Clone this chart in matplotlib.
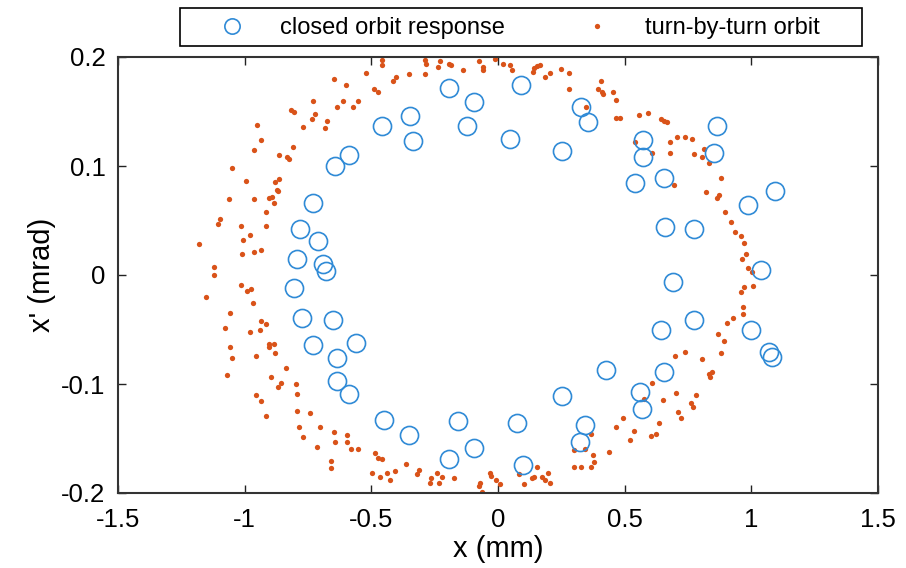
import numpy as np
import matplotlib.pyplot as plt
from matplotlib.lines import Line2D
from matplotlib.patches import Rectangle

plt.rcParams['font.family'] = ['Liberation Sans', 'DejaVu Sans']
plt.rcParams['axes.unicode_minus'] = False

# closed orbit response (x in mm, x' in mrad)
co_x = [0.091, -0.193, -0.095, -0.347, -0.458, -0.122, -0.336, 0.047, 0.328, 0.355,
        0.253, 0.572, 0.572, 0.541, 0.655, 0.865, 0.853, 1.094, 0.987, -0.588,
        -0.644, -0.730, -0.782, -0.711, -0.794, -0.691, -0.679, -0.805, -0.774, -0.651,
        -0.730, -0.561, -0.636, -0.636, -0.588, -0.450, -0.351, -0.158, -0.095, -0.193,
        0.075, 0.099, 0.253, 0.343, 0.324, 0.426, 0.561, 0.569, 0.644, 0.655,
        0.774, 0.691, 0.659, 0.774, 1.038, 0.999, 1.070, 1.082]
co_y = [0.174, 0.172, 0.159, 0.146, 0.137, 0.137, 0.123, 0.125, 0.154, 0.140,
        0.114, 0.124, 0.108, 0.084, 0.089, 0.137, 0.112, 0.077, 0.064, 0.110,
        0.100, 0.066, 0.042, 0.031, 0.015, 0.010, 0.004, -0.012, -0.039, -0.041,
        -0.064, -0.062, -0.076, -0.097, -0.109, -0.133, -0.147, -0.134, -0.159, -0.169,
        -0.136, -0.174, -0.111, -0.138, -0.153, -0.087, -0.107, -0.123, -0.050, -0.089,
        -0.041, -0.006, 0.044, 0.042, 0.005, -0.050, -0.071, -0.075]

# turn-by-turn orbit
tbt_x = [-0.647, -0.600, -0.521, -0.490, -0.474, -0.730, -0.612, -0.553, -0.636, -0.572,
         -0.817, -0.805, -0.722, -0.734, -0.675, -0.683, -0.770, -0.951, -0.936, -0.963,
         -0.809, -0.865, -0.833, -0.825, -1.050, -0.995, -0.880, -0.865, -0.873, -1.062,
         -0.963, -0.904, -0.892,
         -0.458, -0.458, -0.288, -0.284, -0.229, -0.237, -0.193, -0.186, -0.138, -0.075,
         -0.059, -0.059, -0.012, 0.020, 0.047, 0.055, 0.142, 0.154, 0.166, 0.138,
         0.186, 0.205, 0.249, 0.280, 0.280, -0.351, -0.288, -0.403, -0.415,
         0.407, 0.395, 0.411, 0.415, 0.454, 0.466, 0.347, 0.466, 0.482, 0.557,
         0.592, 0.644, 0.655, 0.667, 0.707, 0.738, 0.766, 0.679, 0.541, 0.608,
         0.679, 0.813, 0.774, 0.805, 0.833, 0.880, 0.695, 0.821, 0.873, 0.865,
         -0.869, -0.884, -0.916, -1.098, -1.105, -1.015, -0.916, -0.979, -1.007, -1.180,
         -1.011, -0.963, -0.936, -1.121, -1.121, -1.015, -0.991, -0.975, -1.153, -0.967,
         -1.058, -0.936, -0.916, -1.078, -0.979, -0.940, -1.058, -0.904, -0.884,
         -1.050, -0.955, -0.904, -0.880, -1.070, -0.837, -0.896, -0.857, -0.869, -0.797,
         -0.794, -0.955, -0.936, -0.916, -0.794, -0.742, -0.786, -0.703, -0.770, -0.647,
         -0.644, -0.596, -0.596, -0.715, -0.580, -0.553, -0.659, -0.659, -0.486, -0.474,
         -0.497, -0.466,
         -0.458, -0.438, -0.426, -0.407, -0.363, -0.312, -0.320, -0.265, -0.268, -0.241,
         -0.221, -0.233, -0.174, -0.071, -0.075, -0.063, -0.032, -0.028, -0.008, 0.008,
         0.083, 0.103, 0.134, 0.142, 0.154, 0.174, 0.186, 0.197, 0.205,
         0.892, 0.699, 0.738, 0.805, 0.880, 0.833, 0.845, 0.837, 0.608, 0.703,
         0.782, 0.651, 0.576, 0.762, 0.770, 0.711, 0.722, 0.493, 0.636, 0.466,
         0.537, 0.604, 0.624, 0.367, 0.521, 0.300, 0.343, 0.438, 0.375, 0.379,
         0.300, 0.328, 0.367,
         0.959, 0.971, 0.979, 0.963, 0.987, 1.003, 0.971, 1.007, 0.959, 0.967,
         0.967, 0.896, 0.920, 0.936, 0.904, 0.928, 0.869]
tbt_y = [0.180, 0.174, 0.185, 0.171, 0.168, 0.160, 0.160, 0.160, 0.154, 0.154,
         0.151, 0.150, 0.148, 0.143, 0.141, 0.135, 0.136, 0.138, 0.124, 0.115,
         0.117, 0.110, 0.108, 0.106, 0.098, 0.086, 0.085, 0.088, 0.078, 0.070,
         0.070, 0.071, 0.072,
         0.197, 0.193, 0.197, 0.194, 0.196, 0.191, 0.194, 0.193, 0.188, 0.196,
         0.191, 0.188, 0.198, 0.194, 0.193, 0.188, 0.190, 0.192, 0.193, 0.186,
         0.182, 0.185, 0.189, 0.185, 0.171, 0.184, 0.184, 0.182, 0.178,
         0.178, 0.171, 0.168, 0.166, 0.168, 0.161, 0.154, 0.144, 0.144, 0.147,
         0.149, 0.143, 0.141, 0.140, 0.127, 0.127, 0.125, 0.122, 0.122, 0.112,
         0.112, 0.116, 0.111, 0.108, 0.103, 0.089, 0.083, 0.076, 0.073, 0.071,
         0.077, 0.066, 0.058, 0.051, 0.047, 0.045, 0.045, 0.037, 0.032, 0.028,
         0.019, 0.021, 0.023, 0.007, 0.000, -0.009, -0.015, -0.013, -0.020, -0.026,
         -0.035, -0.042, -0.045, -0.049, -0.052, -0.050, -0.066, -0.063, -0.063,
         -0.076, -0.074, -0.066, -0.072, -0.092, -0.085, -0.094, -0.099, -0.103, -0.100,
         -0.109, -0.110, -0.116, -0.129, -0.125, -0.127, -0.139, -0.139, -0.149, -0.144,
         -0.153, -0.147, -0.153, -0.158, -0.160, -0.160, -0.171, -0.177, -0.163, -0.168,
         -0.182, -0.185,
         -0.169, -0.182, -0.188, -0.180, -0.173, -0.179, -0.183, -0.186, -0.191, -0.182,
         -0.185, -0.191, -0.186, -0.191, -0.194, -0.199, -0.182, -0.184, -0.188, -0.192,
         -0.183, -0.192, -0.186, -0.185, -0.176, -0.185, -0.188, -0.182, -0.191,
         -0.061, -0.074, -0.071, -0.077, -0.072, -0.091, -0.089, -0.094, -0.099, -0.108,
         -0.110, -0.115, -0.114, -0.117, -0.121, -0.126, -0.131, -0.131, -0.136, -0.139,
         -0.143, -0.148, -0.146, -0.146, -0.151, -0.161, -0.160, -0.162, -0.165, -0.172,
         -0.176, -0.176, -0.176,
         0.036, 0.029, 0.019, 0.015, 0.006, 0.003, -0.011, -0.010, -0.016, -0.029,
         -0.036, 0.058, 0.049, 0.039, -0.044, -0.039, -0.054]

blue = '#2f8ad6'
orange = '#d95319'

W, H = 906, 568
fig = plt.figure(figsize=(W / 100, H / 100), dpi=100)
ax = fig.add_axes([118/W, 75/H, 760/W, 436/H])

ax.plot(co_x, co_y, 'o', mfc='none', mec=blue, ms=13, mew=1.2, zorder=3)
ax.plot(tbt_x, tbt_y, 'o', color=orange, mec='none', ms=3.8, zorder=2)

ax.set_xlim(-1.5, 1.5)
ax.set_ylim(-0.2, 0.2)
ax.set_xticks([-1.5, -1, -0.5, 0, 0.5, 1, 1.5])
ax.set_xticklabels(['-1.5', '-1', '-0.5', '0', '0.5', '1', '1.5'])
ax.set_yticks([-0.2, -0.1, 0, 0.1, 0.2])
ax.set_yticklabels(['-0.2', '-0.1', '0', '0.1', '0.2'])
ax.tick_params(direction='in', top=True, right=True, length=6, width=1,
               labelsize=18.5, color='#222222')
ax.tick_params(axis='x', pad=11)
ax.tick_params(axis='y', pad=9)
for s in ax.spines.values():
    s.set_linewidth(1.5)
    s.set_color('#333333')

ax.set_xlabel('x (mm)', fontsize=21, labelpad=2)
ax.set_ylabel("x' (mrad)", fontsize=21, labelpad=4)

# legend box
fig.add_artist(Rectangle((180/W, 522/H), 682/W, 38/H, transform=fig.transFigure,
                         fill=False, edgecolor='black', linewidth=1.2))
handles = [Line2D([], [], ls='none', marker='o', mfc='none', mec=blue, ms=11, mew=1.2),
           Line2D([], [], ls='none', marker='o', color=orange, mec='none', ms=3.8)]
fig.legend(handles, ['closed orbit response', 'turn-by-turn orbit'],
           loc='center left', bbox_to_anchor=(208/W, 540/H), ncol=2, fontsize=17,
           frameon=False, borderpad=0, borderaxespad=0, handlelength=2,
           handletextpad=1.05, columnspacing=2.9)

fig.savefig('out.png', dpi=100)
